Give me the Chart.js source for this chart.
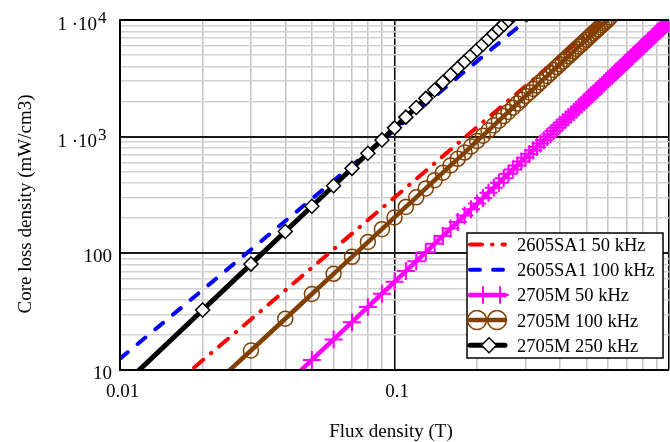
<!DOCTYPE html>
<html lang="en">
<head>
<meta charset="utf-8">
<title>Core loss density</title>
<script src="https://cdn.jsdelivr.net/npm/chart.js@4.4.1/dist/chart.umd.min.js"></script>
<style>
  html, body { margin: 0; padding: 0; background: #ffffff; overflow: hidden; }
  #wrap { position: relative; width: 670px; height: 442px; overflow: hidden; }
  #lossChart { display: block; }
</style>
</head>
<body>
<div id="wrap"><canvas id="lossChart" width="680" height="442"></canvas></div>
<script>
// Flux density grid (T) used by the 2705M measurements
const fluxB = [
  0.01, 0.02, 0.03, 0.04, 0.05, 0.06, 0.07, 0.08, 0.09, 0.10,
  0.11, 0.12, 0.13, 0.14, 0.15, 0.16, 0.17, 0.18, 0.19, 0.20,
  0.21, 0.22, 0.23, 0.24, 0.25, 0.26, 0.27, 0.28, 0.29, 0.30,
  0.31, 0.32, 0.33, 0.34, 0.35, 0.36, 0.37, 0.38, 0.39, 0.40,
  0.41, 0.42, 0.43, 0.44, 0.45, 0.46, 0.47, 0.48, 0.49, 0.50,
  0.51, 0.52, 0.53, 0.54, 0.55, 0.56, 0.57, 0.58, 0.59, 0.60,
  0.61, 0.62, 0.63, 0.64, 0.65, 0.66, 0.67, 0.68, 0.69, 0.70,
  0.71, 0.72, 0.73, 0.74, 0.75, 0.76, 0.77, 0.78, 0.79, 0.80,
  0.81, 0.82, 0.83, 0.84, 0.85, 0.86, 0.87, 0.88, 0.89, 0.90,
  0.91, 0.92, 0.93, 0.94, 0.95, 0.96, 0.97, 0.98, 0.99, 1.00
];

// 2705M 250 kHz, B = 0.01 .. 0.28 T (mW/cm3)
const loss2705M250 = [
  6.98, 32.7, 80.9, 154, 253, 380, 535, 721, 938, 1190,
  1470, 1780, 2130, 2510, 2930, 3380, 3870, 4400, 4960, 5560,
  6200, 6880, 7600, 8350, 9150, 9990, 10900, 11800
];

// 2705M 100 kHz, B = 0.02 .. 0.61 T
const loss2705M100 = [
  6.08, 14.7, 27.5, 44.8, 66.7, 93.3, 125, 161, 203, 250,
  302, 360, 423, 491, 566, 646, 731, 823, 920, 1020,
  1130, 1250, 1370, 1500, 1630, 1770, 1920, 2070, 2230, 2390,
  2560, 2740, 2930, 3120, 3310, 3520, 3730, 3950, 4170, 4400,
  4640, 4880, 5130, 5390, 5650, 5930, 6200, 6490, 6780, 7080,
  7390, 7700, 8020, 8350, 8680, 9020, 9370, 9730, 10100, 10500
];

// 2705M 50 kHz, B = 0.04 .. 1.00 T
const loss2705M50 = [
  7.39, 12.2, 18.3, 25.7, 34.7, 45.1, 57.0, 70.5, 85.6, 102,
  121, 141, 163, 186, 211, 239, 267, 298, 331, 365,
  402, 440, 480, 522, 566, 613, 661, 711, 763, 817,
  873, 932, 992, 1050, 1120, 1190, 1260, 1330, 1400, 1470,
  1550, 1630, 1710, 1800, 1880, 1970, 2060, 2160, 2250, 2350,
  2450, 2550, 2660, 2760, 2870, 2990, 3100, 3220, 3330, 3460,
  3580, 3700, 3830, 3960, 4100, 4230, 4370, 4510, 4650, 4800,
  4950, 5100, 5250, 5410, 5560, 5720, 5890, 6050, 6220, 6390,
  6560, 6740, 6920, 7100, 7280, 7460, 7650, 7840, 8040, 8240,
  8430, 8630, 8840, 9050, 9250, 9470, 9680
];

// 2605SA1 curves, sampled more coarsely
const flux2605SA1 = [0.01, 0.02, 0.05, 0.1, 0.2, 0.3, 0.4, 0.5, 0.6];
const loss2605SA1_50 = [3.01, 12.1, 75.3, 301, 1210, 2710, 4820, 7530, 10800];
const loss2605SA1_100 = [12.5, 48.6, 293, 1140, 4440, 9820, 17300, 26700, 38200];

// Axis labels
const xTickValues = [0.01, 0.1];
const xTickText = ['0.01', '0.1'];
const yTickValues = [10, 100, 1000, 10000];
const yTickText = ['10', '100', '1 \u00b710', '1 \u00b710'];
const yTickExp = ['', '', '3', '4'];

const xGridValues = [];
[0.01, 0.1].forEach(d => { for (let m = 1; m <= 9; m++) xGridValues.push(+(m * d).toFixed(3)); });
xGridValues.push(1);
const yGridValues = [];
[10, 100, 1000].forEach(d => { for (let m = 1; m <= 9; m++) yGridValues.push(m * d); });
yGridValues.push(10000);

const SERIF = '"Liberation Serif", "Times New Roman", serif';
const isDecade = v => Math.abs(Math.log10(v) - Math.round(Math.log10(v))) < 1e-6;
const toPoints = (xs, ys) => ys.map((v, i) => ({ x: xs[i], y: v }));

const datasets = [
  {
    label: '2605SA1 50 kHz',
    data: toPoints(flux2605SA1, loss2605SA1_50),
    borderColor: '#ff0000',
    borderWidth: 4,
    borderDash: [12, 10, 0.5, 10],
    borderCapStyle: 'round',
    pointRadius: 0,
    order: 5
  },
  {
    label: '2605SA1 100 kHz',
    data: toPoints(flux2605SA1, loss2605SA1_100),
    borderColor: '#0000ff',
    borderWidth: 4,
    borderDash: [10, 13],
    borderCapStyle: 'round',
    pointRadius: 0,
    order: 4
  },
  {
    label: '2705M 50 kHz',
    data: toPoints(fluxB.slice(3, 100), loss2705M50),
    borderColor: '#ff00ff',
    borderWidth: 4.5,
    pointStyle: 'cross',
    pointRadius: 9,
    pointBorderColor: '#ff00ff',
    pointBorderWidth: 2,
    order: 3
  },
  {
    label: '2705M 100 kHz',
    data: toPoints(fluxB.slice(1, 61), loss2705M100),
    borderColor: '#804000',
    borderWidth: 4.5,
    pointStyle: 'circle',
    pointRadius: 7.5,
    pointBackgroundColor: 'rgba(0,0,0,0)',
    pointBorderColor: '#804000',
    pointBorderWidth: 1.5,
    order: 2
  },
  {
    label: '2705M 250 kHz',
    data: toPoints(fluxB.slice(0, 28), loss2705M250),
    borderColor: '#000000',
    borderWidth: 5,
    pointStyle: 'rectRot',
    pointRadius: 7,
    pointBackgroundColor: '#ffffff',
    pointBorderColor: '#000000',
    pointBorderWidth: 1.5,
    order: 1
  }
];

// legend marker placement inside each sample line
const legendMarkX = [[], [], [483, 500], [477, 497], [489]];
const legendMarkR = [0, 0, 8, 9.5, 7.5];

function drawMarker(ctx, style, x, y, r) {
  ctx.beginPath();
  if (style === 'circle') {
    ctx.arc(x, y, r, 0, Math.PI * 2);
  } else if (style === 'cross') {
    ctx.moveTo(x - r, y); ctx.lineTo(x + r, y);
    ctx.moveTo(x, y - r); ctx.lineTo(x, y + r);
  } else if (style === 'rectRot') {
    ctx.moveTo(x - r, y); ctx.lineTo(x, y - r);
    ctx.lineTo(x + r, y); ctx.lineTo(x, y + r);
    ctx.closePath();
  }
  ctx.fill();
  ctx.stroke();
}

const decorations = {
  id: 'decorations',
  afterDatasetsDraw(chart) {
    const { ctx, chartArea: a, scales: { x, y } } = chart;
    ctx.save();

    // plot frame
    ctx.strokeStyle = '#000';
    ctx.lineWidth = 2;
    ctx.beginPath();
    ctx.moveTo(a.right, a.top);
    ctx.lineTo(a.left, a.top);
    ctx.lineTo(a.left, a.bottom);
    ctx.lineTo(a.right, a.bottom);
    ctx.stroke();

    ctx.fillStyle = '#000';

    // y tick labels, powers written with raised exponent
    yTickValues.forEach((v, i) => {
      const py = y.getPixelForValue(v);
      ctx.textBaseline = 'alphabetic';
      ctx.font = '19px ' + SERIF;
      if (yTickExp[i]) {
        ctx.textAlign = 'right';
        ctx.fillText(yTickText[i], 97, py + 10);
        ctx.font = '17px ' + SERIF;
        ctx.textAlign = 'left';
        ctx.fillText(yTickExp[i], 98, py + 3);
      } else {
        ctx.textAlign = 'right';
        ctx.fillText(yTickText[i], 112, py + 9);
      }
    });

    // x tick labels
    ctx.font = '19px ' + SERIF;
    ctx.textAlign = 'center';
    xTickValues.forEach((v, i) => {
      ctx.fillText(xTickText[i], x.getPixelForValue(v) + 2.5, 397);
    });

    // axis titles
    ctx.fillText('Flux density (T)', 391, 437);
    ctx.save();
    ctx.translate(31, 204);
    ctx.rotate(-Math.PI / 2);
    ctx.fillText('Core loss density (mW/cm3)', 0, 0);
    ctx.restore();

    ctx.restore();
  },
  afterDraw(chart) {
    const { ctx } = chart;
    const box = { left: 467, top: 233, width: 196, height: 125 };
    ctx.save();
    ctx.fillStyle = '#ffffff';
    ctx.fillRect(box.left, box.top, box.width, box.height);
    ctx.strokeStyle = '#000';
    ctx.lineWidth = 1.5;
    ctx.strokeRect(box.left, box.top, box.width, box.height);

    chart.data.datasets.forEach((ds, i) => {
      const ry = 244.5 + i * 25.2;
      ctx.strokeStyle = ds.borderColor;
      ctx.lineWidth = ds.borderWidth;
      ctx.lineCap = 'round';
      ctx.setLineDash(ds.borderDash || []);
      ctx.beginPath();
      ctx.moveTo(470, ry);
      ctx.lineTo(505, ry);
      ctx.stroke();
      ctx.setLineDash([]);

      legendMarkX[i].forEach(mx => {
        ctx.strokeStyle = ds.pointBorderColor;
        ctx.fillStyle = ds.pointBackgroundColor || 'rgba(0,0,0,0)';
        ctx.lineWidth = ds.pointBorderWidth;
        drawMarker(ctx, ds.pointStyle, mx, ry, legendMarkR[i]);
      });

      ctx.fillStyle = '#000';
      ctx.font = '18.5px ' + SERIF;
      ctx.textAlign = 'left';
      ctx.textBaseline = 'alphabetic';
      ctx.fillText(ds.label, 517, ry + 6.5);
    });
    ctx.restore();
  }
};

new Chart(document.getElementById('lossChart'), {
  type: 'line',
  data: { datasets },
  options: {
    responsive: false,
    animation: false,
    events: [],
    layout: { padding: { left: 0, top: 20, right: 4, bottom: 0 } },
    elements: { line: { tension: 0, borderJoinStyle: 'round' } },
    plugins: { legend: { display: false }, tooltip: { enabled: false } },
    scales: {
      x: {
        type: 'logarithmic',
        min: 0.01,
        max: 1,
        afterBuildTicks: s => { s.ticks = xGridValues.map(v => ({ value: v })); },
        afterFit: s => { s.height = 72; },
        ticks: { display: false },
        border: { display: false },
        grid: {
          drawTicks: false,
          color: c => isDecade(c.tick.value) ? '#000000' : '#c4c4c4',
          lineWidth: 1.5
        }
      },
      y: {
        type: 'logarithmic',
        min: 10,
        max: 10000,
        afterBuildTicks: s => { s.ticks = yGridValues.map(v => ({ value: v })); },
        afterFit: s => { s.width = 120; },
        ticks: { display: false },
        border: { display: false },
        grid: {
          drawTicks: false,
          color: c => isDecade(c.tick.value) ? '#1a1a1a' : '#d2d2d2',
          lineWidth: c => isDecade(c.tick.value) ? 2 : 1.5
        }
      }
    }
  },
  plugins: [decorations]
});
</script>
</body>
</html>
